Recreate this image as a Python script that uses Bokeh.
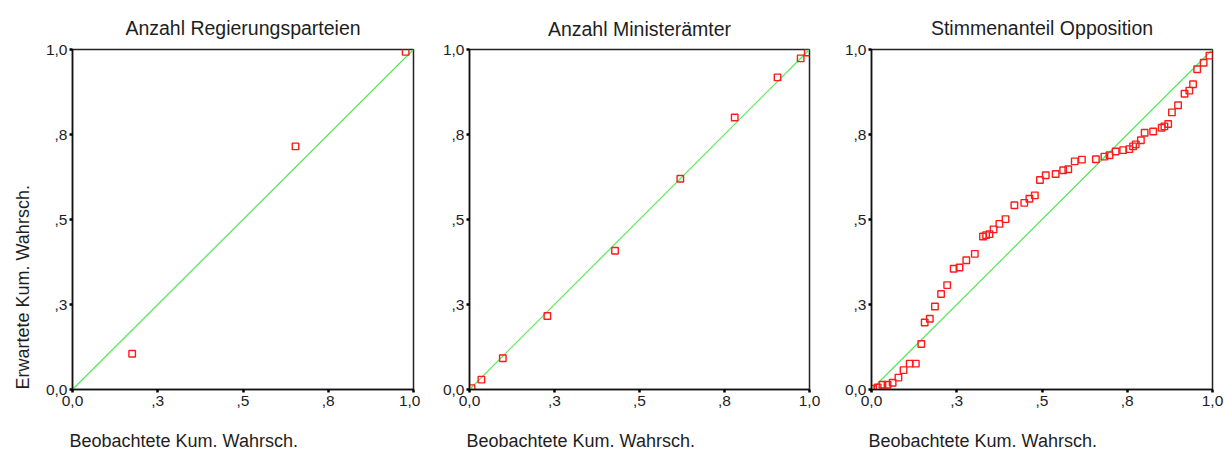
from bokeh.plotting import figure
from bokeh.layouts import row
from bokeh.models import Range1d, FixedTicker, Title
from bokeh.embed import file_html
from bokeh.resources import INLINE

# ---- data ----
titles = ["Anzahl Regierungsparteien", "Anzahl Ministerämter", "Stimmenanteil Opposition"]
x_label = "Beobachtete Kum.  Wahrsch."
y_label = "Erwartete Kum.  Wahrsch."

tick_values = [0.0, 0.25, 0.5, 0.75, 1.0]
tick_labels = ["0,0", ",3", ",5", ",8", "1,0"]

obs_parteien = [0.175, 0.654, 0.977]
exp_parteien = [0.105, 0.715, 0.993]

obs_minister = [0.006, 0.035, 0.098, 0.229, 0.428, 0.620, 0.780, 0.906, 0.974, 0.995]
exp_minister = [0.004, 0.029, 0.092, 0.216, 0.408, 0.620, 0.800, 0.918, 0.974, 0.991]

obs_opposition = [0.005, 0.018, 0.032, 0.047, 0.062, 0.079, 0.094, 0.112, 0.130, 0.146,
                  0.156, 0.171, 0.186, 0.204, 0.222, 0.241, 0.258, 0.278, 0.303, 0.327,
                  0.336, 0.346, 0.358, 0.375, 0.393, 0.419, 0.448, 0.463, 0.479, 0.494,
                  0.511, 0.540, 0.562, 0.577, 0.596, 0.617, 0.658, 0.683, 0.698, 0.716,
                  0.738, 0.756, 0.767, 0.775, 0.790, 0.801, 0.826, 0.851, 0.859, 0.870,
                  0.881, 0.899, 0.918, 0.932, 0.943, 0.955, 0.974, 0.991]
exp_opposition = [0.002, 0.006, 0.014, 0.014, 0.020, 0.035, 0.057, 0.076, 0.076, 0.134,
                  0.197, 0.208, 0.244, 0.281, 0.307, 0.355, 0.359, 0.380, 0.399, 0.450,
                  0.454, 0.457, 0.471, 0.487, 0.501, 0.542, 0.549, 0.561, 0.571, 0.616,
                  0.630, 0.634, 0.645, 0.648, 0.671, 0.676, 0.677, 0.685, 0.689, 0.700,
                  0.704, 0.707, 0.715, 0.721, 0.733, 0.755, 0.759, 0.770, 0.774, 0.781,
                  0.815, 0.836, 0.870, 0.879, 0.898, 0.942, 0.961, 0.982]

diag = [0.0, 1.0]

FONT = "Liberation Sans"
TXT = "#1e1e1e"

# (border_left, frame_w, border_right, border_top)
layouts = [
    (72, 341, 7, 49),
    (49, 340, 11, 47),
    (51, 341, 12, 49),
]
series = [(obs_parteien, exp_parteien), (obs_minister, exp_minister), (obs_opposition, exp_opposition)]

figs = []
for i, (title, (xs, ys), (bl, fw, br, bt)) in enumerate(zip(titles, series, layouts)):
    fh = 340
    p = figure(frame_width=fw, frame_height=fh,
               min_border_left=bl, min_border_right=br, min_border_top=bt,
               min_border_bottom=455 - bt - fh,
               x_range=Range1d(0, 1), y_range=Range1d(0, 1),
               output_backend="svg", toolbar_location=None, tools="")
    p.background_fill_color = "white"
    p.border_fill_color = "white"
    p.outline_line_color = "#222222"
    p.outline_line_width = 1.5
    p.xgrid.visible = False
    p.ygrid.visible = False
    for ax in (p.xaxis[0], p.yaxis[0]):
        ax.ticker = FixedTicker(ticks=tick_values)
        ax.major_label_overrides = {v: t for v, t in zip(tick_values, tick_labels)}
        ax.axis_line_color = "#111111"
        ax.axis_line_width = 1.5
        ax.major_tick_in = 0
        ax.major_tick_out = 3
        ax.major_tick_line_width = 2.5
        ax.major_tick_line_color = "black"
        ax.minor_tick_line_color = None
        ax.major_label_text_font = FONT
        ax.major_label_text_font_size = "15.5px"
        ax.major_label_text_color = TXT
    p.xaxis[0].major_label_standoff = 3
    p.yaxis[0].major_label_standoff = 2

    p.line(diag, diag, line_color="#55e855", line_width=1.2)
    p.scatter(xs, ys, marker="square", size=6.5, fill_color=None,
              line_color="#ff1a1a", line_width=1.4)

    p.title = Title(text=title, align="center", text_font=FONT, text_font_size="19.5px",
                    text_font_style="normal", text_color=TXT, standoff=bt - 27)
    p.add_layout(Title(text=x_label, align="left", text_font=FONT, text_font_size="18px",
                       text_font_style="normal", text_color=TXT, standoff=40, offset=-3),
                 "below")
    if i == 0:
        p.add_layout(Title(text=y_label, align="left", text_font=FONT, text_font_size="18px",
                           text_font_style="normal", text_color=TXT, standoff=20),
                     "left")
    figs.append(p)

layout = row(*figs, spacing=0)
with open("out.html", "w") as f:
    f.write(file_html(layout, INLINE))
